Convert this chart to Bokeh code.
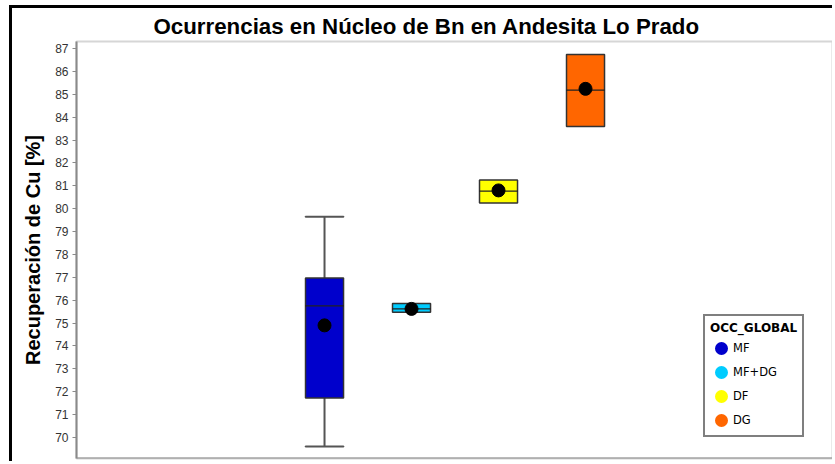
from bokeh.plotting import figure
from bokeh.models import (Range1d, FixedTicker, ColumnDataSource, Legend, LegendItem, Span)
from bokeh.embed import file_html
from bokeh.resources import INLINE

# ---- data ----
categories = ["MF", "MF+DG", "DF", "DG"]
colors = ["#0000CC", "#00CCFF", "#FFFF00", "#FF6600"]
q1 = [71.72, 75.47, 80.25, 83.59]
q3 = [76.97, 75.86, 81.25, 86.74]
medians = [75.75, 75.62, 80.77, 85.18]
means = [74.90, 75.62, 80.80, 85.24]
whisker_low = [69.60, 75.47, 80.25, 83.59]
whisker_high = [79.65, 75.86, 81.25, 86.74]
y_ticks = list(range(70, 88))

title_text = "Ocurrencias en Núcleo de Bn en Andesita Lo Prado"
y_label = "Recuperación de Cu [%]"
legend_title = "OCC_GLOBAL"

xs = list(range(len(categories)))
box_w = 0.437

src = ColumnDataSource(dict(x=xs, cat=categories, color=colors, q1=q1, q3=q3,
                            med=medians, mean=means, lo=whisker_low, hi=whisker_high))

keep = [i for i in xs if whisker_low[i] < q1[i] or whisker_high[i] > q3[i]]
w_src = ColumnDataSource(dict(
    x=[xs[i] for i in keep],
    lo=[whisker_low[i] for i in keep],
    q1=[q1[i] for i in keep],
    hi=[whisker_high[i] for i in keep],
    q3=[q3[i] for i in keep],
))

p = figure(width=823, height=456,
           x_range=Range1d(-2.851, 5.839), y_range=Range1d(69.08, 87.31),
           output_backend="svg", toolbar_location=None,
           min_border_left=64, min_border_right=3, min_border_top=33, min_border_bottom=6)
p.styles = {"margin-left": "9px", "margin-top": "5px",
            "border-left": "3px solid black", "border-top": "3px solid black"}

p.title.text = title_text
p.title.align = "left"
p.title.offset = 77
p.title.standoff = 6
p.title.text_font = "Liberation Sans"
p.title.text_font_size = "22.3px"
p.title.text_font_style = "bold"
p.title.text_color = "black"

p.xaxis.visible = False
p.grid.visible = False
p.outline_line_color = "#d6d6d6"
p.outline_line_width = 2
p.background_fill_color = "white"
p.border_fill_color = "white"

ya = p.yaxis[0]
ya.ticker = FixedTicker(ticks=y_ticks)
ya.axis_label = y_label
ya.axis_label_text_font = "Liberation Sans"
ya.axis_label_text_font_size = "20px"
ya.axis_label_text_font_style = "bold"
ya.axis_label_text_color = "black"
ya.axis_label_standoff = 8
ya.major_label_text_font = "Liberation Sans"
ya.major_label_text_font_size = "12px"
ya.major_label_text_color = "#333333"
ya.major_label_standoff = 4
ya.axis_line_color = "#8a8a8a"
ya.axis_line_width = 2
ya.major_tick_line_color = "#8a8a8a"
ya.major_tick_out = 4
ya.major_tick_in = 0
ya.minor_tick_line_color = None

# bottom axis line
p.add_layout(Span(location=p.y_range.start, dimension="width",
                  line_color="#8a8a8a", line_width=2))

# whiskers
p.segment(x0="x", y0="q3", x1="x", y1="hi", source=w_src, line_color="#555555", line_width=2)
p.segment(x0="x", y0="lo", x1="x", y1="q1", source=w_src, line_color="#555555", line_width=2)
p.rect(x="x", y="hi", width=box_w, height=0.0001, source=w_src,
       fill_color=None, line_color="#555555", line_width=2)
p.rect(x="x", y="lo", width=box_w, height=0.0001, source=w_src,
       fill_color=None, line_color="#555555", line_width=2)

# boxes
p.vbar(x="x", width=box_w, bottom="q1", top="q3", source=src,
       fill_color="color", line_color="#333333", line_width=1.5)
# median lines
p.rect(x="x", y="med", width=box_w, height=0.0001, source=src,
       fill_color=None, line_color="#222222", line_width=1.2)

# legend glyph renderer (hidden under the mean markers)
r_leg = p.scatter(x="x", y="mean", source=src, size=1, marker="circle",
                  fill_color="color", line_color="color", line_width=5)
# mean markers
p.scatter(x="x", y="mean", source=src, size=13, marker="circle",
          fill_color="black", line_color="black")

legend = Legend(items=[LegendItem(label=c, renderers=[r_leg], index=i)
                       for i, c in enumerate(categories)],
                location=(627, 21), title=legend_title)
legend.title_text_font = "DejaVu Sans"
legend.title_text_font_size = "12px"
legend.title_text_font_style = "bold"
legend.title_text_color = "black"
legend.title_standoff = 3
legend.label_text_font = "DejaVu Sans"
legend.label_text_font_size = "11.5px"
legend.label_text_color = "black"
legend.label_standoff = 1
legend.glyph_width = 22
legend.glyph_height = 20
legend.label_height = 20
legend.spacing = 4
legend.padding = 5
legend.margin = 0
legend.border_line_color = "black"
legend.border_line_width = 2
legend.background_fill_color = "white"
legend.background_fill_alpha = 1
p.add_layout(legend)

open("out.html", "w").write(file_html(p, INLINE))
